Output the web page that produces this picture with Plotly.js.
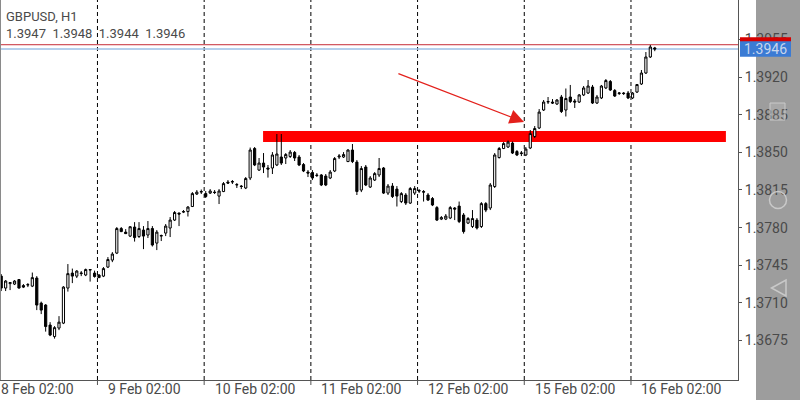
<!DOCTYPE html>
<html><head><meta charset="utf-8">
<script src="https://cdn.plot.ly/plotly-3.0.1.min.js"></script>
<style>html,body{margin:0;padding:0;background:#fff;}#chart{width:800px;height:400px;}</style>
</head><body><div id="chart"></div>
<script>
const symbolTitle = 'GBPUSD, H1';
const lastBarText = '1.3947  1.3948  1.3944  1.3946';
const days = ['8 Feb','9 Feb','10 Feb','11 Feb','12 Feb','15 Feb','16 Feb'];
const dayFirstHour = [2,0,0,0,0,0,0];
const dayBarCount = [22,24,24,24,24,24,6];
const yTicks = [1.3675,1.3710,1.3745,1.3780,1.3815,1.3850,1.3885,1.3920,1.3955];

const opens = [
 1.37349,1.37238,1.37279,1.37275,1.37317,1.37261,1.37266,1.37256,1.37331,1.37098,1.37080,1.36894,1.36787,1.36866,1.36912,1.37238,1.37377,1.37349,1.37372,1.37359,1.37405,1.37377,
 1.37359,1.37349,1.37433,1.37498,1.37563,1.37791,1.37758,1.37721,1.37805,1.37717,1.37777,1.37731,1.37791,1.37656,1.37721,1.37749,1.37796,1.37870,1.37935,1.37944,1.37949,1.37996,1.38112,1.38130,
 1.38116,1.38121,1.38130,1.38093,1.38135,1.38223,1.38223,1.38196,1.38186,1.38168,1.38261,1.38535,1.38335,1.38400,1.38354,1.38354,1.38382,1.38456,1.38447,1.38461,1.38498,1.38456,1.38386,1.38316,
 1.38312,1.38289,1.38289,1.38279,1.38261,1.38326,1.38456,1.38456,1.38414,1.38521,1.38409,1.38149,1.38363,1.38177,1.38242,1.38289,1.38354,1.38121,1.38186,1.38158,1.38042,1.38103,1.38028,1.38121,
 1.38144,1.38135,1.38103,1.38070,1.37986,1.37879,1.37879,1.37889,1.37982,1.38000,1.37917,1.37842,1.37810,1.37870,1.37810,1.38023,1.37982,1.38182,1.38451,1.38535,1.38549,1.38586,1.38507,1.38488,
 1.38475,1.38540,1.38647,1.38726,1.38893,1.38967,1.38967,1.38949,1.39014,1.38893,1.39014,1.38977,1.38967,1.39033,1.39051,1.39107,1.38958,1.39005,1.39098,1.39158,1.39074,1.39046,1.39051,1.39051,
 1.39005,1.39060,1.39135,1.39237,1.39386,1.39470];
const highs = [
 1.37368,1.37312,1.37293,1.37312,1.37321,1.37275,1.37284,1.37382,1.37349,1.37112,1.37089,1.36921,1.36884,1.36977,1.37256,1.37461,1.37419,1.37405,1.37396,1.37419,1.37414,1.37400,
 1.37368,1.37433,1.37526,1.37572,1.37805,1.37805,1.37786,1.37814,1.37851,1.37851,1.37814,1.37861,1.37814,1.37777,1.37735,1.37833,1.37898,1.37954,1.37940,1.37963,1.38000,1.38130,1.38149,1.38154,
 1.38140,1.38158,1.38149,1.38158,1.38223,1.38242,1.38242,1.38214,1.38196,1.38270,1.38544,1.38549,1.38447,1.38493,1.38382,1.38502,1.38670,1.38670,1.38493,1.38521,1.38512,1.38475,1.38400,1.38335,
 1.38335,1.38307,1.38298,1.38298,1.38335,1.38456,1.38484,1.38502,1.38530,1.38577,1.38428,1.38372,1.38382,1.38279,1.38316,1.38447,1.38363,1.38205,1.38214,1.38186,1.38130,1.38121,1.38177,1.38186,
 1.38158,1.38149,1.38121,1.38084,1.38000,1.37907,1.37926,1.38000,1.37991,1.38042,1.37935,1.37898,1.37963,1.37889,1.38037,1.38037,1.38214,1.38493,1.38549,1.38595,1.38609,1.38600,1.38521,1.38512,
 1.38549,1.38707,1.38744,1.38902,1.38986,1.39014,1.38995,1.38995,1.39033,1.39093,1.39126,1.38995,1.39042,1.39116,1.39172,1.39126,1.39033,1.39126,1.39181,1.39172,1.39088,1.39060,1.39060,1.39070,
 1.39060,1.39135,1.39265,1.39432,1.39498,1.39480];
const lows = [
 1.37210,1.37210,1.37219,1.37266,1.37233,1.37238,1.37247,1.37247,1.37033,1.36996,1.36833,1.36791,1.36768,1.36847,1.36903,1.37205,1.37284,1.37331,1.37349,1.37349,1.37298,1.37335,
 1.37331,1.37340,1.37424,1.37479,1.37554,1.37758,1.37740,1.37712,1.37670,1.37703,1.37600,1.37703,1.37624,1.37591,1.37675,1.37721,1.37712,1.37861,1.37814,1.37935,1.37903,1.37991,1.38103,1.38112,
 1.38075,1.38112,1.38112,1.38019,1.38130,1.38205,1.38205,1.38168,1.38158,1.38158,1.38242,1.38372,1.38326,1.38307,1.38265,1.38298,1.38372,1.38382,1.38391,1.38447,1.38419,1.38372,1.38316,1.38270,
 1.38242,1.38270,1.38186,1.38186,1.38251,1.38316,1.38437,1.38447,1.38409,1.38400,1.38103,1.38130,1.38186,1.38168,1.38233,1.38270,1.38112,1.38103,1.38075,1.37996,1.38028,1.38010,1.38019,1.38103,
 1.38121,1.38042,1.38047,1.38000,1.37861,1.37870,1.37870,1.37879,1.37870,1.37842,1.37744,1.37833,1.37796,1.37782,1.37796,1.37944,1.37963,1.38168,1.38442,1.38530,1.38540,1.38484,1.38465,1.38465,
 1.38465,1.38530,1.38633,1.38716,1.38884,1.38949,1.38949,1.38940,1.38865,1.38833,1.38958,1.38912,1.38958,1.39023,1.39042,1.38949,1.38949,1.38995,1.39088,1.39070,1.39014,1.39033,1.39033,1.38995,
 1.38995,1.39051,1.39126,1.39228,1.39377,1.39440];
const closes = [
 1.37238,1.37303,1.37289,1.37303,1.37238,1.37247,1.37270,1.37335,1.37080,1.37033,1.36880,1.36801,1.36870,1.36921,1.37247,1.37372,1.37349,1.37396,1.37377,1.37410,1.37410,1.37345,
 1.37335,1.37419,1.37503,1.37554,1.37791,1.37763,1.37744,1.37808,1.37707,1.37791,1.37721,1.37791,1.37638,1.37758,1.37726,1.37814,1.37870,1.37940,1.37926,1.37949,1.37991,1.38116,1.38130,1.38135,
 1.38089,1.38140,1.38126,1.38140,1.38209,1.38214,1.38228,1.38200,1.38182,1.38256,1.38521,1.38382,1.38400,1.38363,1.38344,1.38475,1.38484,1.38400,1.38479,1.38502,1.38447,1.38382,1.38326,1.38307,
 1.38261,1.38284,1.38196,1.38196,1.38316,1.38442,1.38465,1.38479,1.38521,1.38414,1.38135,1.38349,1.38196,1.38261,1.38302,1.38349,1.38121,1.38186,1.38089,1.38093,1.38116,1.38028,1.38163,1.38163,
 1.38140,1.38130,1.38056,1.38010,1.37870,1.37893,1.37907,1.37986,1.37972,1.37856,1.37763,1.37884,1.37884,1.37796,1.38023,1.37963,1.38196,1.38475,1.38535,1.38581,1.38595,1.38493,1.38475,1.38493,
 1.38530,1.38674,1.38721,1.38874,1.38967,1.38972,1.38958,1.38986,1.38879,1.39000,1.38972,1.38967,1.39033,1.39098,1.39116,1.38958,1.39014,1.39116,1.39167,1.39079,1.39023,1.39051,1.39046,1.39005,
 1.39051,1.39130,1.39237,1.39386,1.39479,1.39460];

const bidPrice = 1.3946;
const askPrice = 1.3950;
const zoneTop = 1.38698, zoneBottom = 1.38596;
const zoneStartBar = 58.9, zoneEndBar = 163.0;
const arrowFrom = {bar: 89.0, price: 1.39237};
const arrowTo = {bar: 117.6, price: 1.38782};

// category labels (time of each bar)
const times = [];
days.forEach((d, i) => {
  for (let k = 0; k < dayBarCount[i]; k++) {
    const h = dayFirstHour[i] + k;
    times.push(d + ' ' + String(h).padStart(2, '0') + ':00');
  }
});

const W = 800, H = 400, ML = 0, MR = 62, MT = 0, MB = 20;
const PW = W - ML - MR, PH = H - MT - MB;
const yMin = 1.363832, yMax = 1.399158;
const xMin = -0.27, xMax = 165.72;
const px = v => v / PW;                 // pixel -> paper x
const py = v => (PH - v) / PH;          // pixel -> paper y
const pyPrice = p => (p - yMin) / (yMax - yMin);

const font = 'Roboto, "Noto Sans", sans-serif';
const textCol = '#4a4a4a';

const shapes = [];
// side grey bar (navigation area)
shapes.push({type:'rect', xref:'paper', yref:'paper', x0:px(756), x1:px(800), y0:py(400), y1:1, fillcolor:'#9d9d9d', line:{width:0}, layer:'below'});
// red zone
shapes.push({type:'rect', xref:'x', yref:'y', x0:zoneStartBar, x1:zoneEndBar, y0:zoneBottom, y1:zoneTop, fillcolor:'#ff0000', line:{width:0}, layer:'below'});
// day separators + ticks
const sepPos = [];
for (let i = 1; i < days.length; i++) sepPos.push(times.indexOf(days[i] + ' 00:00') - 0.35);
sepPos.forEach(s => {
  shapes.push({type:'line', xref:'x', yref:'paper', x0:s, x1:s, y0:0, y1:1, line:{color:'#000', width:1, dash:'4px,3px'}, layer:'below'});
  shapes.push({type:'line', xref:'x', yref:'paper', x0:s, x1:s, y0:0, y1:py(385), line:{color:'#555', width:1}});
});
// bid / ask lines
shapes.push({type:'line', xref:'paper', yref:'y', x0:0, x1:1, y0:askPrice, y1:askPrice, line:{color:'#c62c37', width:1}, layer:'below'});
shapes.push({type:'line', xref:'paper', yref:'y', x0:0, x1:1, y0:bidPrice, y1:bidPrice, line:{color:'#9dbfe6', width:1.5}, layer:'below'});
// left border
shapes.push({type:'line', xref:'paper', yref:'paper', x0:px(0.5), x1:px(0.5), y0:0, y1:1, line:{color:'#8a8a8a', width:1}});
// price boxes on the axis
const askC = pyPrice(askPrice), bidC = pyPrice(bidPrice);
shapes.push({type:'rect', xref:'paper', yref:'paper', x0:px(740), x1:px(791), y0:askC - 7.5/PH, y1:askC + 7.5/PH, fillcolor:'#d60000', line:{width:0}, layer:'above'});
shapes.push({type:'rect', xref:'paper', yref:'paper', x0:px(740), x1:px(791), y0:bidC - 7.8/PH, y1:bidC + 7.8/PH, fillcolor:'#3b7bd4', line:{width:0}, layer:'above'});
// nav icons
shapes.push({type:'rect', xref:'paper', yref:'paper', x0:px(770), x1:px(785), y0:py(120), y1:py(103), fillcolor:'rgba(255,255,255,0.12)', line:{color:'#c9c9c9', width:1}, layer:'above'});
shapes.push({type:'circle', xref:'paper', yref:'paper', x0:px(769.5), x1:px(786.5), y0:py(208.5), y1:py(191.5), line:{color:'#c9c9c9', width:1.5}, layer:'above'});
shapes.push({type:'path', xref:'paper', yref:'paper', path:`M ${px(771.5)},${py(288)} L ${px(786)},${py(280)} L ${px(786)},${py(296)} Z`, line:{color:'#c9c9c9', width:1.5}, layer:'above'});

const annotations = [];
annotations.push({xref:'paper', yref:'paper', x:px(4), y:py(16), xanchor:'left', yanchor:'middle', showarrow:false, text:symbolTitle, font:{family:font, size:13, color:textCol}});
annotations.push({xref:'paper', yref:'paper', x:px(4), y:py(33), xanchor:'left', yanchor:'middle', showarrow:false, text:lastBarText.replace(/  /g,'&nbsp; '), font:{family:font, size:13, color:textCol}});
// date labels
days.forEach(d => {
  annotations.push({xref:'x', yref:'paper', x:times.indexOf(d + ' 02:00'), y:py(389.5), xanchor:'left', yanchor:'middle', xshift:-2, showarrow:false, text:d + ' 02:00', font:{family:font, size:14, color:textCol}});
});
// bid label
annotations.push({xref:'paper', yref:'paper', x:px(765), y:bidC, xanchor:'center', yanchor:'middle', showarrow:false, text:bidPrice.toFixed(4), font:{family:font, size:14, color:'#c8d6ec'}});
// arrow
annotations.push({xref:'x', yref:'y', axref:'x', ayref:'y', x:arrowTo.bar, y:arrowTo.price, ax:arrowFrom.bar, ay:arrowFrom.price, text:'', showarrow:true, arrowhead:2, arrowsize:2.4, arrowwidth:1.2, arrowcolor:'#e3201b'});

const trace = {
  type:'candlestick', x:times, open:opens, high:highs, low:lows, close:closes,
  increasing:{line:{color:'#000', width:1}, fillcolor:'#ffffff'},
  decreasing:{line:{color:'#000', width:1}, fillcolor:'#000000'},
  whiskerwidth:0, hoverinfo:'skip'
};

const layout = {
  width:W, height:H, margin:{l:ML, r:MR, t:MT, b:MB, pad:0},
  paper_bgcolor:'#ffffff', plot_bgcolor:'#ffffff', showlegend:false,
  xaxis:{type:'category', range:[xMin, xMax], showgrid:false, zeroline:false, showline:true, linecolor:'#555', linewidth:1,
         ticks:'', showticklabels:false, rangeslider:{visible:false}, fixedrange:true},
  yaxis:{side:'right', range:[yMin, yMax], tickvals:yTicks, tickformat:'.4f', ticks:'outside', ticklen:3, tickcolor:'#555',
         showline:true, linecolor:'#555', linewidth:1, showgrid:false, zeroline:false,
         tickfont:{family:font, size:14, color:textCol}, fixedrange:true},
  shapes:shapes, annotations:annotations
};

Plotly.newPlot('chart', [trace], layout, {staticPlot:true, displayModeBar:false});
</script></body></html>
